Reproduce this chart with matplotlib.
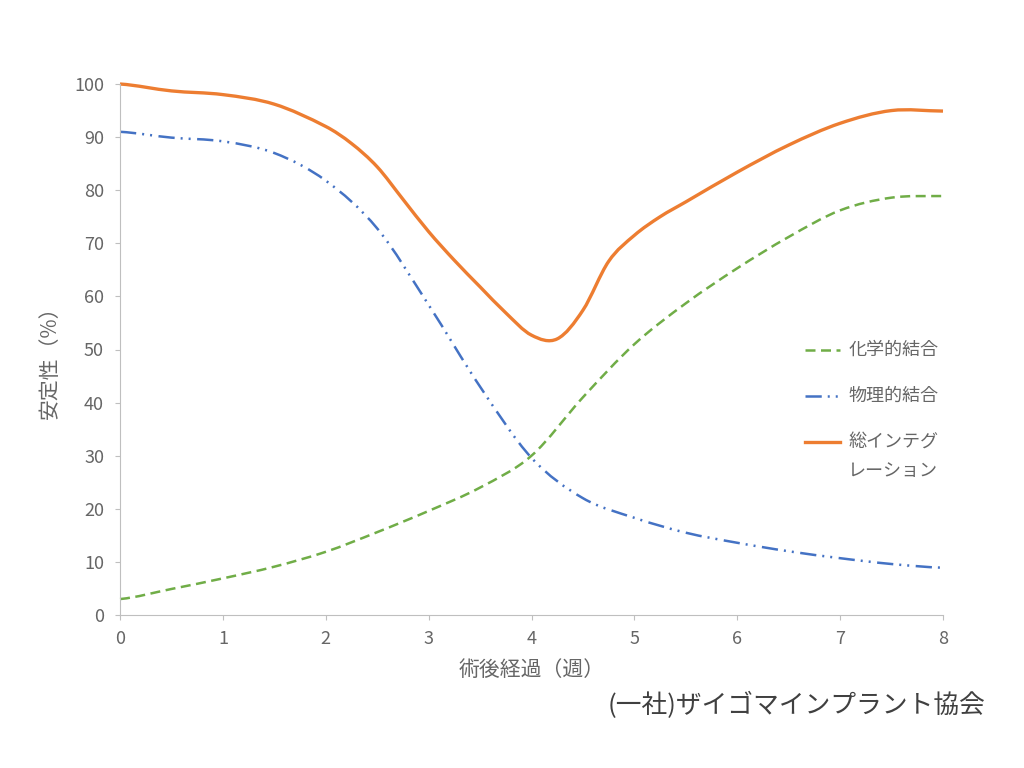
import numpy as np
import matplotlib
matplotlib.use('Agg')
import matplotlib.pyplot as plt
from matplotlib.path import Path
from matplotlib.patches import PathPatch
from matplotlib.lines import Line2D

plt.rcParams['font.family'] = ['Noto Sans CJK JP', 'DejaVu Sans']

# values (weeks after surgery, stability %)
weeks = [0, 0.5, 1, 1.5, 2, 2.5, 3, 3.5, 4, 4.5, 5, 5.5, 6, 6.5, 7, 7.5, 8]
chemical = [3, 4.9, 6.9, 9.1, 11.9, 15.6, 19.6, 24, 30, 41, 51, 58.7, 65.3, 71.2, 76.2, 78.6, 78.9]
physical = [91, 89.9, 89.2, 87, 81.8, 72.8, 58.4, 43, 29.6, 22, 18.3, 15.5, 13.6, 12, 10.7, 9.6, 8.9]

# the total curve bends sharply between weeks 2 and 5, so it was read more finely there
weeks_total = [0, 0.5, 1, 1.5, 2, 2.25, 2.5, 2.75, 3, 3.25, 3.5, 3.75, 4, 4.25, 4.5, 4.75,
               5, 5.25, 5.5, 6, 6.5, 7, 7.5, 8]
total = [100, 98.7, 98, 96.2, 92, 88.8, 84.4, 78.3, 72.2, 66.8, 61.8, 56.9, 52.7, 52.0, 57.4, 66.6,
         71.5, 75.0, 77.8, 83.4, 88.5, 92.6, 95, 94.9]

labels = ['化学的結合', '物理的結合', '総インテグ\nレーション']
colors = ['#70AD47', '#4472C4', '#ED7D31']
widths = [1.8, 1.8, 2.4]
styles = [(0, (4, 2.2)), (0, (6.5, 2.4, 0.8, 2.4, 0.8, 2.6)), 'solid']

x_label = '術後経過（週）'
y_label = '安定性（%）'
credit = '(一社)ザイゴマインプラント協会'

grey = '#666666'
axis_grey = '#BFBFBF'


def smooth_path(xs, ys):
    # excel-like smoothed line: cardinal spline (x-parameterised) as cubic beziers
    x = np.asarray(xs, float)
    y = np.asarray(ys, float)
    n = len(x)
    m = np.zeros(n)
    m[1:-1] = (y[2:] - y[:-2]) / (x[2:] - x[:-2])
    m[0] = (y[1] - y[0]) / (x[1] - x[0]) / 2
    m[-1] = (y[-1] - y[-2]) / (x[-1] - x[-2]) / 2
    verts = [(x[0], y[0])]
    codes = [Path.MOVETO]
    for i in range(n - 1):
        h = x[i + 1] - x[i]
        verts += [(x[i] + h / 3, y[i] + m[i] * h / 3),
                  (x[i + 1] - h / 3, y[i + 1] - m[i + 1] * h / 3),
                  (x[i + 1], y[i + 1])]
        codes += [Path.CURVE4] * 3
    return Path(verts, codes)


fig = plt.figure(figsize=(10.24, 7.68), dpi=100)
ax = fig.add_axes([120 / 1024, 1 - 615 / 768, 823 / 1024, 531 / 768])

series = [(weeks, chemical), (weeks, physical), (weeks_total, total)]
for (xs, ys), c, lw, ls in zip(series, colors, widths, styles):
    patch = PathPatch(smooth_path(xs, ys), facecolor='none', edgecolor=c,
                      lw=lw, linestyle=ls, clip_on=False, capstyle='butt')
    ax.add_patch(patch)

ax.set_xlim(0, 8)
ax.set_ylim(0, 100)
ax.set_xticks(range(0, 9))
ax.set_yticks(range(0, 101, 10))

for s in ['top', 'right']:
    ax.spines[s].set_visible(False)
for s in ['left', 'bottom']:
    ax.spines[s].set_color(axis_grey)
ax.tick_params(colors=axis_grey, labelcolor=grey, labelsize=13, length=3.5)
ax.tick_params(axis='x', pad=7)
ax.tick_params(axis='y', pad=8)

ax.set_xlabel(x_label, fontsize=15, color=grey)
ax.xaxis.set_label_coords(0.5, -0.083)
ax.set_ylabel(y_label, fontsize=15, color=grey)
ax.yaxis.set_label_coords(-0.072, 0.485)

# legend, laid out like the original (handle next to the first text line)
leg_y = [0.499, 0.412, 0.326]
for y, lab, c, lw, ls in zip(leg_y, labels, colors, widths, styles):
    ax.add_line(Line2D([0.832, 0.875], [y, y], transform=ax.transAxes, color=c,
                       lw=lw, linestyle=ls, clip_on=False))
    ax.text(0.885, y + 0.018, lab, transform=ax.transAxes, fontsize=13,
            color=grey, va='top', ha='left', linespacing=1.8)

fig.text(0.962, 0.082, credit, fontsize=18.5, color='#404040', ha='right', va='center')

fig.savefig('out.png', dpi=100)
